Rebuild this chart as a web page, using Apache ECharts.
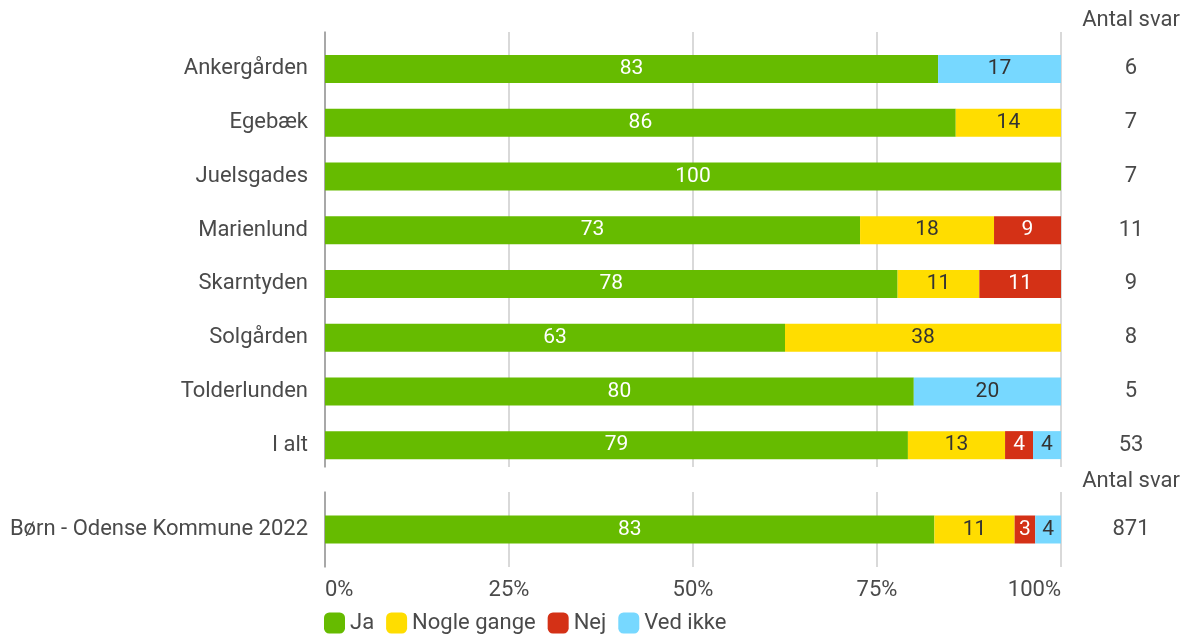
<!DOCTYPE html>
<html>
<head>
<meta charset="utf-8">
<script src="https://cdn.jsdelivr.net/npm/echarts@6/dist/echarts.min.js"></script>
<style>html,body{margin:0;padding:0;background:#fff;}#c{width:1191px;height:637px;}</style>
</head>
<body>
<div id="c"></div>
<script>
const categories = ['Ankergården','Egebæk','Juelsgades','Marienlund','Skarntyden','Solgården','Tolderlunden','I alt'];
const antalSvar = ['6','7','7','11','9','8','5','53'];
const ja       = [83.3, 85.7, 100, 72.7, 77.8, 62.5, 80, 79.2];
const nogle    = [0, 14.3, 0, 18.2, 11.1, 37.5, 0, 13.2];
const nej      = [0, 0, 0, 9.1, 11.1, 0, 0, 3.8];
const vedIkke  = [16.7, 0, 0, 0, 0, 0, 20, 3.8];

const refCategory = ['Børn - Odense Kommune 2022'];
const refAntal = ['871'];
const refJa = [82.8];
const refNogle = [10.9];
const refNej = [2.8];
const refVedIkke = [3.5];

const seriesNames = ['Ja','Nogle gange','Nej','Ved ikke'];
const colors = ['#66BB00','#FFDD00','#D43116','#77D8FF'];
const labelColors = ['#ffffff','#333333','#ffffff','#333333'];
const topData = [ja, nogle, nej, vedIkke];
const botData = [refJa, refNogle, refNej, refVedIkke];

const FONT = 'Roboto';
const TXT = '#4a4a4a';
const FS = 22;
const chart = echarts.init(document.getElementById('c'));

const fmt = p => (p.value > 0 ? String(Math.round(p.value)) : '');

const series = [];
seriesNames.forEach((name, i) => {
  series.push({
    name, type: 'bar', stack: 'top', xAxisIndex: 1, yAxisIndex: 1,
    data: topData[i], barWidth: 28, itemStyle: {color: colors[i]},
    label: {show: true, position: 'inside', formatter: fmt, color: labelColors[i], fontSize: 21, fontFamily: FONT},
    emphasis: {disabled: true}
  });
  series.push({
    name, type: 'bar', stack: 'bot', xAxisIndex: 2, yAxisIndex: 3,
    data: botData[i], barWidth: 28, itemStyle: {color: colors[i]},
    label: {show: true, position: 'inside', formatter: fmt, color: labelColors[i], fontSize: 21, fontFamily: FONT},
    emphasis: {disabled: true}
  });
});

const headerText = y => ({type: 'text', position: [1131, y],
  style: {text: 'Antal svar', x: 0, y: 0, fontSize: FS, fill: TXT, fontFamily: FONT, align: 'center', verticalAlign: 'middle'}});

const option = {
  animation: false,
  textStyle: {fontFamily: FONT},
  color: colors,
  grid: [
    {left: 325, right: 130, top: 32, height: 435},
    {left: 325, right: 130, top: 42, height: 430},
    {left: 325, right: 130, top: 492, height: 75}
  ],
  legend: {
    data: seriesNames, left: 319, top: 607, itemWidth: 21, itemHeight: 21, itemGap: 12,
    icon: 'roundRect',
    textStyle: {fontSize: FS, color: TXT, fontFamily: FONT}
  },
  xAxis: [
    {gridIndex: 0, type: 'value', min: 0, max: 100, interval: 25,
     axisLabel: {show: false}, axisLine: {show: false}, axisTick: {show: false},
     splitLine: {show: true, lineStyle: {color: '#cccccc', width: 1.5}}},
    {gridIndex: 1, type: 'value', min: 0, max: 100, interval: 25,
     axisLabel: {show: false}, axisLine: {show: false}, axisTick: {show: false}, splitLine: {show: false}},
    {gridIndex: 2, type: 'value', min: 0, max: 100, interval: 25,
     axisLabel: {show: true, formatter: '{value}%', fontSize: FS, color: TXT, margin: 12, fontFamily: FONT,
                 alignMinLabel: 'left', alignMaxLabel: 'right'},
     axisLine: {show: false}, axisTick: {show: false},
     splitLine: {show: true, lineStyle: {color: '#cccccc', width: 1.5}}}
  ],
  yAxis: [
    {gridIndex: 0, type: 'category', data: [''],
     axisLine: {show: true, lineStyle: {color: '#999999', width: 1.5}}, axisTick: {show: false}, axisLabel: {show: false}},
    {gridIndex: 1, type: 'category', data: categories, inverse: true,
     axisLine: {show: false}, axisTick: {show: false},
     axisLabel: {fontSize: FS, color: TXT, margin: 17, fontFamily: FONT}},
    {gridIndex: 1, type: 'category', data: antalSvar, inverse: true, position: 'right',
     axisLine: {show: false}, axisTick: {show: false},
     axisLabel: {fontSize: FS, color: TXT, margin: 70, align: 'center', fontFamily: FONT}},
    {gridIndex: 2, type: 'category', data: refCategory, inverse: true,
     axisLine: {show: true, lineStyle: {color: '#999999', width: 1.5}}, axisTick: {show: false},
     axisLabel: {fontSize: FS, color: TXT, margin: 17, fontFamily: FONT}},
    {gridIndex: 2, type: 'category', data: refAntal, inverse: true, position: 'right',
     axisLine: {show: false}, axisTick: {show: false},
     axisLabel: {fontSize: FS, color: TXT, margin: 70, align: 'center', fontFamily: FONT}}
  ],
  graphic: [headerText(20), headerText(481)],
  series
};
chart.setOption(option);
</script>
</body>
</html>
